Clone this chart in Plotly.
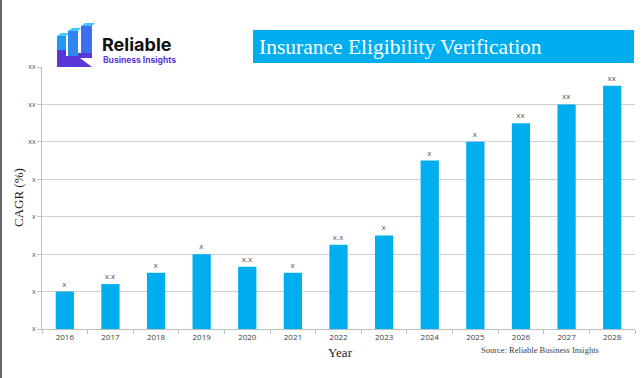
import plotly.graph_objects as go

years = ["2016", "2017", "2018", "2019", "2020", "2021", "2022", "2023", "2024", "2025", "2026", "2027", "2028"]
cagr_values = [1.0, 1.2, 1.5, 2.0, 1.66, 1.5, 2.25, 2.5, 4.5, 5.0, 5.5, 6.0, 6.5]
bar_labels = ["x", "x.x", "x", "x", "x.x", "x", "x.x", "x", "x", "x", "xx", "xx", "xx"]
y_tick_vals = [0, 1, 2, 3, 4, 5, 6, 7]
y_tick_text = ["x", "x", "x", "x", "x", "xx", "xx", "xx"]

W, H = 644, 378
L, R, T, B = 42, 635, 67, 329

def px(x):
    return (x - L) / (R - L)

def py(y):
    return (B - y) / (B - T)

fig = go.Figure()
fig.add_trace(go.Bar(
    x=years, y=cagr_values, text=bar_labels, textposition="outside",
    textfont=dict(family="Open Sans, sans-serif", size=8, color="#595959"),
    marker=dict(color="#00AEEF", line=dict(width=0)),
    cliponaxis=False, hoverinfo="skip",
))

shapes = []
# title box
shapes.append(dict(type="rect", xref="paper", yref="paper",
                   x0=px(253), x1=px(634), y0=py(63), y1=py(30),
                   fillcolor="#00AEEF", line=dict(width=0), layer="above"))
# left border line
shapes.append(dict(type="line", xref="paper", yref="paper",
                   x0=px(1), x1=px(1), y0=py(0), y1=py(378),
                   line=dict(color="#333333", width=1.5)))

def poly(points, color):
    path = "M " + " L ".join(f"{px(x)},{py(y)}" for x, y in points) + " Z"
    return dict(type="path", xref="paper", yref="paper", path=path,
                fillcolor=color, line=dict(width=0), layer="above")

# logo graphic (decoration)
shapes.append(poly([(57, 36), (66, 36), (66, 58), (57, 58)], "#1f9af0"))
shapes.append(poly([(57, 36), (61, 33), (69, 33), (66, 36)], "#3fd0ff"))
shapes.append(poly([(68, 31), (78, 31), (78, 56), (68, 56)], "#2f86f2"))
shapes.append(poly([(68, 31), (72, 28), (81, 28), (78, 31)], "#3fc8ff"))
shapes.append(poly([(81, 26), (92, 26), (92, 53), (81, 53)], "#3d6ff2"))
shapes.append(poly([(81, 26), (85, 23), (95, 23), (92, 26)], "#44c0ff"))
shapes.append(poly([(57, 50), (66, 50), (66, 56), (78, 56), (78, 53), (92, 53),
                    (92, 58), (80, 58), (92, 67), (57, 67)], "#5a37d8"))

annotations = [
    dict(text="Insurance Eligibility Verification", xref="paper", yref="paper",
         x=px(400), y=py(46.5), xanchor="center", yanchor="middle", showarrow=False,
         font=dict(family="Liberation Serif, serif", size=21.5, color="white")),
    dict(text="<b>Reliable</b>", xref="paper", yref="paper",
         x=px(100), y=py(45), xanchor="left", yanchor="middle", showarrow=False,
         font=dict(family="Inter, Roboto, sans-serif", size=18, color="#111111")),
    dict(text="<b>Business Insights</b>", xref="paper", yref="paper",
         x=px(101), y=py(60), xanchor="left", yanchor="middle", showarrow=False,
         font=dict(family="Inter, Roboto, sans-serif", size=8.5, color="#5a37d8")),
    dict(text="CAGR (%)", xref="paper", yref="paper", textangle=-90,
         x=px(18), y=py(198), xanchor="center", yanchor="middle", showarrow=False,
         font=dict(family="Liberation Serif, serif", size=13, color="#222222")),
    dict(text="Year", xref="paper", yref="paper",
         x=px(340), y=py(352), xanchor="center", yanchor="middle", showarrow=False,
         font=dict(family="Liberation Serif, serif", size=13, color="#222222")),
    dict(text="Source: Reliable Business Insights", xref="paper", yref="paper",
         x=px(540), y=py(350), xanchor="center", yanchor="middle", showarrow=False,
         font=dict(family="Liberation Serif, serif", size=8.5, color="#444444")),
]

fig.update_layout(
    width=W, height=H, autosize=False,
    margin=dict(l=L, r=W - R, t=T, b=H - B, pad=0),
    paper_bgcolor="white", plot_bgcolor="white",
    showlegend=False, bargap=0.6,
    shapes=shapes, annotations=annotations,
    xaxis=dict(type="category", showgrid=False, showline=True, linecolor="#bfbfbf", linewidth=1,
               ticks="outside", tickson="boundaries", ticklen=4, tickcolor="#bfbfbf",
               tickfont=dict(family="Open Sans, sans-serif", size=8, color="#404040"),
               fixedrange=True),
    yaxis=dict(range=[0, 7], tickvals=y_tick_vals, ticktext=y_tick_text,
               showgrid=True, gridcolor="#d0d0d0", gridwidth=1, zeroline=False,
               showline=True, linecolor="#bfbfbf", linewidth=1,
               ticks="outside", ticklen=4, tickcolor="#bfbfbf",
               tickfont=dict(family="Open Sans, sans-serif", size=7, color="#595959"),
               fixedrange=True),
)

fig.write_html("out.html", config={"displayModeBar": False},
               post_script="document.body.style.margin='0';document.body.style.padding='0';")
